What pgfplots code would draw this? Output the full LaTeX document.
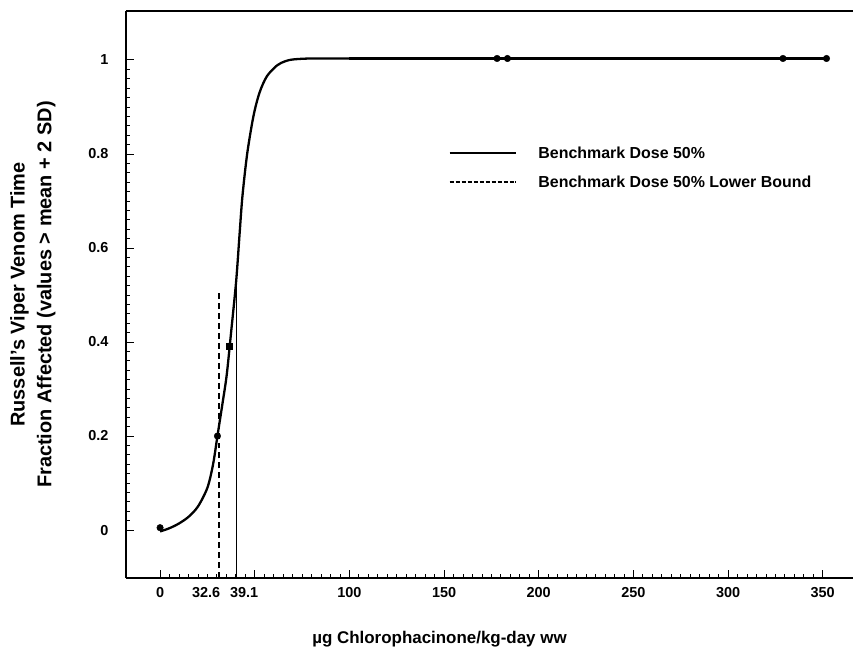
\documentclass[border=0pt]{standalone}
\usepackage{pgfplots}
\pgfplotsset{compat=1.18}
\usepackage{fontspec}
\setmainfont{Liberation Sans}

\begin{document}
\begin{tikzpicture}
	\begin{axis}[
		scale only axis,
		width=727bp, height=567bp,
		xmin=-18, xmax=366,
		ymin=-0.102, ymax=1.104,
		axis lines=left,
		axis line style={-, line width=2pt},
		tick align=inside,
		major tick length=8bp,
		minor tick length=4bp,
		tick style={black, line width=0.8pt},
		xtick={0,50,100,150,200,250,300,350},
		xticklabels={0,,100,150,200,250,300,350},
		extra x ticks={24.3,44.4},
		extra x tick labels={32.6,39.1},
		extra x tick style={major tick length=0pt},
		ytick={0,0.2,0.4,0.6,0.8,1},
		yticklabels={0,0.2,0.4,0.6,0.8,1},
		minor x tick num=9,
		minor y tick num=9,
		ticklabel style={font=\fontsize{14.5}{16}\selectfont\bfseries},
		xticklabel style={yshift=-6bp},
		yticklabel style={xshift=-14bp},
		xlabel={µg Chlorophacinone/kg-day ww},
		xlabel style={font=\fontsize{17}{20}\selectfont\bfseries, yshift=-27bp, xshift=-50bp},
		ylabel={Russell's Viper Venom Time\\ Fraction Affected (values > mean + 2 SD)},
		ylabel style={font=\fontsize{20}{27}\selectfont\bfseries, align=center, yshift=26bp},
		clip=false,
		]
		% fitted curve
		\addplot[black, line width=2.3pt, smooth, tension=0.5] coordinates {
			(0,-0.003) (5,0.004) (10,0.014) (15,0.028) (20,0.05) (25,0.09)
			(28,0.14) (30.3,0.2) (33,0.27) (35.2,0.33) (37.5,0.42) (40.2,0.53)
			(42,0.63) (43.5,0.71) (46,0.8) (49.3,0.88) (52.5,0.93) (56.4,0.965)
			(61.7,0.988) (66,0.997) (70.4,1.001) (80,1.003) (100,1.003)};
		\addplot[black, line width=2.3pt] coordinates {(100,1.003) (352,1.003)};
		% observed data
		\addplot[only marks, mark=*, mark size=3.3pt, black] coordinates {
			(0,0.005) (30.3,0.2) (178,1.003) (183.5,1.003) (329,1.003) (352,1.003)};
		\addplot[only marks, mark=square*, mark size=3pt, black] coordinates {(36.5,0.39)};
		% BMD and lower bound
		\addplot[black, line width=1.3pt] coordinates {(40.2,-0.102) (40.2,0.52)};
		\addplot[black, line width=1.3pt, dash pattern=on 6pt off 4pt] coordinates {(31.2,-0.102) (31.2,0.51)};
		% legend
		\addplot[black, line width=2pt] coordinates {(153,0.802) (188,0.802)};
		\addplot[black, line width=1.3pt, dash pattern=on 4pt off 2pt] coordinates {(153,0.740) (188,0.740)};
		\node[anchor=west, font=\fontsize{16}{18}\selectfont\bfseries] at (axis cs:198,0.802) {Benchmark Dose 50\%};
		\node[anchor=west, font=\fontsize{16}{18}\selectfont\bfseries] at (axis cs:198,0.740) {Benchmark Dose 50\% Lower Bound};
		% top frame line
		\draw[line width=2pt] (rel axis cs:0,1) -- (rel axis cs:1,1);
	\end{axis}
	\pgfresetboundingbox
	\path (current axis.south west) +(-126bp,-71bp) (current axis.north east) +(0bp,11bp);
\end{tikzpicture}
\end{document}
